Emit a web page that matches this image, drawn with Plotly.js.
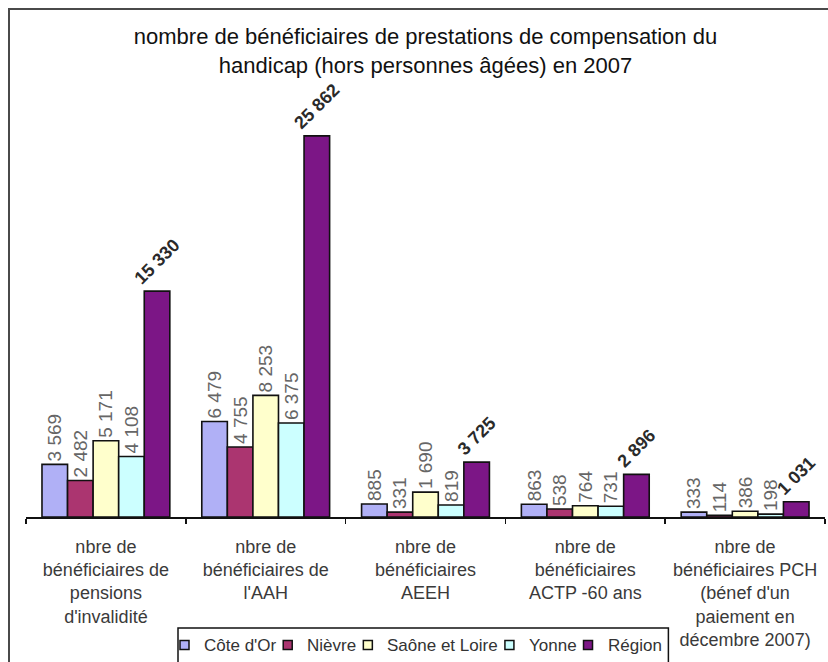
<!DOCTYPE html>
<html>
<head>
<meta charset="utf-8">
<script src="https://cdn.plot.ly/plotly-3.0.1.min.js"></script>
<style>
  html, body { margin: 0; padding: 0; background: #ffffff; }
  #chart { position: absolute; left: 0; top: 0; width: 828px; height: 662px; }
  #frame {
    position: absolute; left: 8px; top: 8px; width: 900px; height: 700px;
    border-left: 2px solid #4a4a4a; border-top: 2px solid #4a4a4a;
    pointer-events: none; z-index: 5;
  }
</style>
</head>
<body>
<div id="chart"></div>
<div id="frame"></div>
<script>
// Categories of benefits (x axis)
const categories = [
  "nbre de<br>bénéficiaires de<br>pensions<br>d'invalidité",
  "nbre de<br>bénéficiaires de<br>l'AAH",
  "nbre de<br>bénéficiaires<br>AEEH",
  "nbre de<br>bénéficiaires<br>ACTP -60 ans",
  "nbre de<br>bénéficiaires PCH<br>(bénef d'un<br>paiement en<br>décembre 2007)"
];

// Number of beneficiaries per département and for the whole région
const coteDOr      = [3569, 6479, 885, 863, 333];
const nievre       = [2482, 4755, 331, 538, 114];
const saoneEtLoire = [5171, 8253, 1690, 764, 386];
const yonne        = [4108, 6375, 819, 731, 198];
const region       = [15330, 25862, 3725, 2896, 1031];

const seriesNames = ["Côte d'Or", "Nièvre", "Saône et Loire", "Yonne", "Région"];
const seriesData = [coteDOr, nievre, saoneEtLoire, yonne, region];
const seriesColors = ["#b0b0f6", "#ab3570", "#ffffcc", "#ccffff", "#7c1686"];

const FONT = "Liberation Sans, Arial, sans-serif";
const fmt = v => v.toLocaleString("fr-FR").replace(/\u202f|\u00a0/g, " ");

// Figure geometry (pixels)
const W = 828, H = 662;
const M = { l: 26, r: 3, t: 100, b: 145 };
const plotW = W - M.l - M.r, plotH = H - M.t - M.b;
const px2x = px => (px - M.l) / plotW;           // pixel -> paper x
const py2y = py => (H - M.b - py) / plotH;       // pixel -> paper y

const traces = seriesData.map((vals, i) => {
  const isRegion = i === seriesData.length - 1;
  return {
    type: "bar",
    name: seriesNames[i],
    x: categories,
    y: vals,
    text: vals.map(fmt),
    textposition: "outside",
    textangle: isRegion ? -45 : -90,
    constraintext: "none",
    cliponaxis: false,
    textfont: isRegion
      ? { family: FONT, size: 18, color: "#2a2a2a", weight: "bold" }
      : { family: FONT, size: 19, color: "#666666" },
    marker: { color: seriesColors[i], line: { color: "#111111", width: 1.6 } },
    hoverinfo: "skip"
  };
});

// Compact one-row legend in a framed box below the axis
const LEG_FONT_SIZE = 17;
const ctx = document.createElement("canvas").getContext("2d");
ctx.font = LEG_FONT_SIZE + "px 'Liberation Sans', Arial, sans-serif";
const legLeft = 178, legTop = 628, legMid = 645;
const iconSize = 9, iconGap = 13, itemGap = 9;
const shapes = [];
const annotations = [];
let cursor = legLeft + 2;
seriesNames.forEach((name, i) => {
  shapes.push({
    type: "rect", xref: "paper", yref: "paper",
    x0: px2x(cursor), x1: px2x(cursor + iconSize),
    y0: py2y(legMid + iconSize / 2), y1: py2y(legMid - iconSize / 2),
    fillcolor: seriesColors[i], line: { color: "#111111", width: 1.5 }
  });
  const tx = cursor + iconSize + iconGap;
  annotations.push({
    xref: "paper", yref: "paper", x: px2x(tx), y: py2y(legMid),
    xanchor: "left", yanchor: "middle", showarrow: false,
    text: name, font: { family: FONT, size: LEG_FONT_SIZE, color: "#333333" }
  });
  cursor = tx + ctx.measureText(name).width + itemGap;
});
shapes.unshift({
  type: "rect", xref: "paper", yref: "paper",
  x0: px2x(legLeft), x1: px2x(cursor),
  y0: py2y(H + 10), y1: py2y(legTop),
  fillcolor: "#ffffff", line: { color: "#111111", width: 1.5 }
});

const layout = {
  width: W,
  height: H,
  paper_bgcolor: "rgba(0,0,0,0)",
  plot_bgcolor: "rgba(0,0,0,0)",
  margin: { l: M.l, r: M.r, t: M.t, b: M.b, autoexpand: false },
  title: {
    text: "nombre de bénéficiaires de prestations de compensation du<br>handicap (hors personnes âgées) en 2007",
    font: { family: FONT, size: 22, color: "#111111" },
    x: 0.5, xref: "paper", xanchor: "center",
    y: 1 - 44 / H, yref: "container", yanchor: "middle"
  },
  barmode: "group",
  bargap: 0.2,
  bargroupgap: 0,
  showlegend: false,
  shapes: shapes,
  annotations: annotations,
  xaxis: {
    type: "category",
    showline: true,
    linecolor: "#111111",
    linewidth: 2,
    ticks: "outside",
    tickson: "boundaries",
    ticklen: 5,
    tickwidth: 1.5,
    tickcolor: "#111111",
    tickangle: 0,
    ticklabelstandoff: 12,
    tickfont: { family: FONT, size: 18, color: "#3a3a3a" },
    showgrid: false,
    zeroline: false
  },
  yaxis: {
    range: [0, 28300],
    visible: false,
    showgrid: false,
    zeroline: false
  }
};

Plotly.newPlot("chart", traces, layout, { displayModeBar: false, staticPlot: true });
</script>
</body>
</html>
